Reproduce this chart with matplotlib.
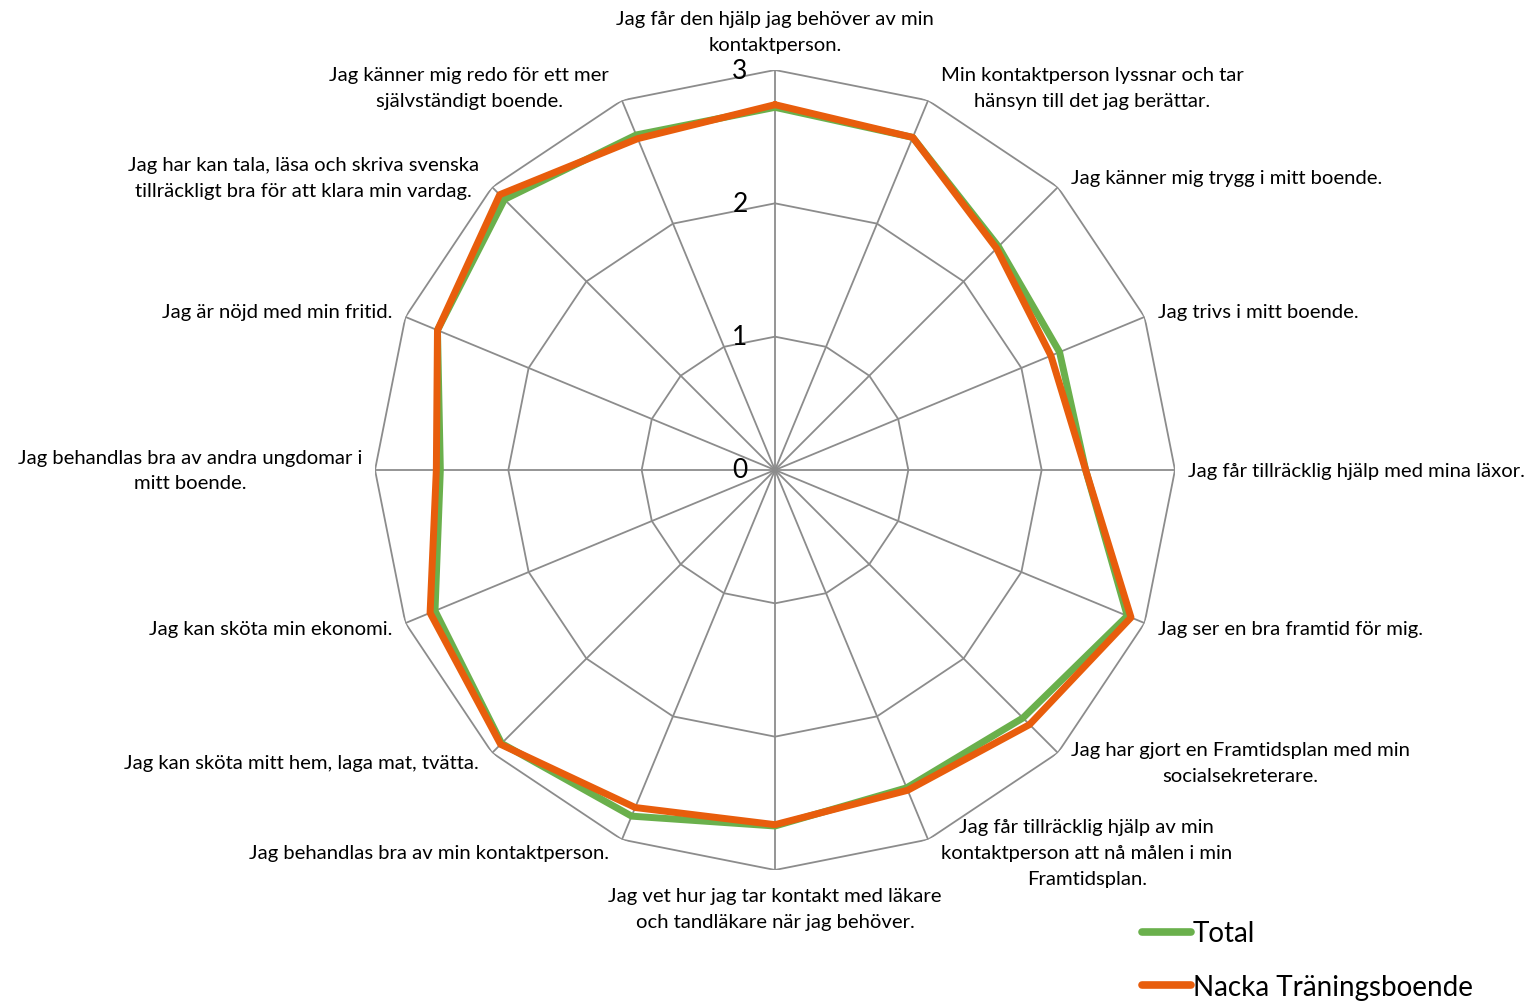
import numpy as np
import matplotlib
matplotlib.use("Agg")
from matplotlib import pyplot as plt

plt.rcParams['font.family'] = ['Lato', 'DejaVu Sans']

categories = [
    "Jag får den hjälp jag behöver av min\nkontaktperson.",
    "Min kontaktperson lyssnar och tar\nhänsyn till det jag berättar.",
    "Jag känner mig trygg i mitt boende.",
    "Jag trivs i mitt boende.",
    "Jag får tillräcklig hjälp med mina läxor.",
    "Jag ser en bra framtid för mig.",
    "Jag har gjort en Framtidsplan med min\nsocialsekreterare.",
    "Jag får tillräcklig hjälp av min\nkontaktperson att nå målen i min\nFramtidsplan.",
    "Jag vet hur jag tar kontakt med läkare\noch tandläkare när jag behöver.",
    "Jag behandlas bra av min kontaktperson.",
    "Jag kan sköta mitt hem, laga mat, tvätta.",
    "Jag kan sköta min ekonomi.",
    "Jag behandlas bra av andra ungdomar i\nmitt boende.",
    "Jag är nöjd med min fritid.",
    "Jag har kan tala, läsa och skriva svenska\ntillräckligt bra för att klara min vardag.",
    "Jag känner mig redo för ett mer\nsjälvständigt boende.",
]
total = [2.72, 2.70, 2.37, 2.31, 2.33, 2.86, 2.63, 2.58,
         2.67, 2.81, 2.90, 2.76, 2.51, 2.74, 2.87, 2.72]
nacka = [2.74, 2.70, 2.35, 2.24, 2.33, 2.89, 2.70, 2.60,
         2.66, 2.74, 2.91, 2.80, 2.54, 2.74, 2.92, 2.69]
levels = [0, 1, 2, 3]

green = '#6ab04c'
orange = '#e85d0c'
gridc = '#8c8c8c'

n = len(categories)
theta = np.arange(n) * 2 * np.pi / n
closed = np.append(theta, theta[0])

fig = plt.figure(figsize=(15.38, 10.04), dpi=100)
ax = fig.add_axes([375 / 1538, 133 / 1004, 800 / 1538, 800 / 1004], projection='polar')
ax.set_theta_zero_location('N')
ax.set_theta_direction(-1)
ax.set_ylim(0, 3)
ax.grid(False)
ax.spines['polar'].set_visible(False)
ax.set_xticks([])
ax.set_yticks([])
ax.patch.set_alpha(0)

# polygon grid and spokes
for lv in levels[1:]:
    ax.plot(closed, [lv] * (n + 1), color=gridc, lw=1.3, zorder=1)
for t in theta:
    ax.plot([t, t], [0, 3], color=gridc, lw=1.3, zorder=1)

for lv in levels:
    ax.annotate(str(lv), xy=(0, lv), xytext=(-35, 0), textcoords='offset pixels',
                ha='center', va='center', fontsize=19, zorder=5)

ax.plot(closed, np.append(total, total[0]), color=green, lw=5, label='Total', zorder=3,
        solid_joinstyle='round', solid_capstyle='round')
ax.plot(closed, np.append(nacka, nacka[0]), color=orange, lw=5, label='Nacka Träningsboende',
        zorder=4, solid_joinstyle='round', solid_capstyle='round')

for t, lab in zip(theta, categories):
    s, c = np.sin(t), np.cos(t)
    if abs(s) < 0.1:
        ha = 'center'
        va = 'bottom' if c > 0 else 'top'
        dx, dy = 0, 17 * np.sign(c)
    else:
        ha = 'left' if s > 0 else 'right'
        va = 'center'
        dx, dy = 13 * np.sign(s), 14 * c
    ax.annotate(lab, xy=(t, 3), xytext=(dx, dy), textcoords='offset pixels',
                ha=ha, va=va, multialignment='center', fontsize=14.6, linespacing=1.62,
                annotation_clip=False)

leg = fig.legend(loc='lower left', bbox_to_anchor=(1117 / 1538, -22 / 1004), frameon=False,
                 fontsize=20, handlelength=1.75, handletextpad=0.07, labelspacing=1.0)
for h in leg.get_lines():
    h.set_linewidth(5.5)

fig.savefig('out.png', dpi=100)
